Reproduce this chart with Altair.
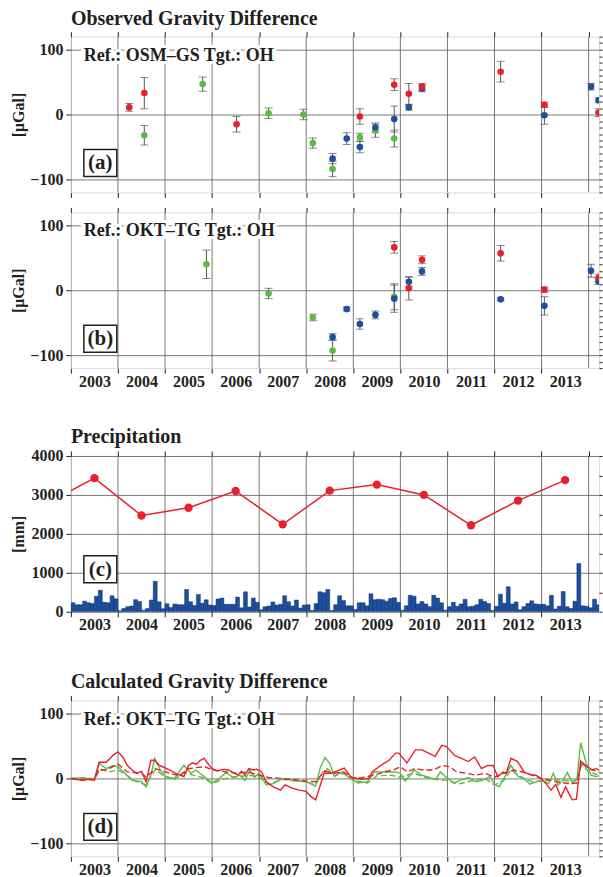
import altair as alt
import pandas as pd

FONT = "Liberation Serif"
RED = "#e8202a"
GREEN = "#5bbb45"
BLUE = "#1d4f9f"
INK = "#231f20"
GRID = "#6a6a6a"
W, H = 529, 156
X0, X1 = 2003.0, 2014.22

year_ticks = list(range(2003, 2015))
label_years = list(range(2003, 2014))

# ---------------- (a) observed, Ref OSM-GS ----------------
a_green_t = [2004.56, 2005.80, 2007.20, 2007.94, 2008.14, 2008.56, 2009.14, 2009.47, 2009.87]
a_green_v = [-32, 47, 2, 0, -44, -84, -35, -25, -37]
a_green_e = [15, 11, 8, 8, 8, 12, 6, 10, 13]
a_blue_t = [2008.56, 2008.86, 2009.14, 2009.47, 2009.87, 2010.18, 2010.46, 2013.06, 2014.05, 2014.21]
a_blue_v = [-68, -37, -50, -20, -7, 11, 40, -1, 43, 22]
a_blue_e = [8, 9, 9, 7, 20, 4, 5, 14, 5, 4]
a_red_t = [2004.24, 2004.56, 2006.52, 2009.14, 2009.87, 2010.18, 2010.46, 2012.13, 2013.06, 2014.21]
a_red_v = [11, 33, -15, -3, 46, 32, 43, 66, 15, 3]
a_red_e = [6, 24, 12, 12, 9, 16, 5, 16, 4, 6]

# ---------------- (b) observed, Ref OKT-TG ----------------
b_green_t = [2005.88, 2007.20, 2008.14, 2008.56, 2009.87]
b_green_v = [40, -5, -42, -93, -10]
b_green_e = [22, 8, 5, 16, 20]
b_blue_t = [2008.56, 2008.86, 2009.14, 2009.47, 2009.87, 2010.18, 2010.46, 2012.13, 2013.06, 2014.05, 2014.21]
b_blue_v = [-72, -29, -52, -38, -13, 13, 29, -14, -24, 30, 14]
b_blue_e = [5, 3, 8, 6, 21, 7, 6, 2, 14, 10, 5]
b_red_t = [2009.87, 2010.18, 2010.46, 2012.13, 2013.06, 2014.21]
b_red_v = [66, 3, 47, 57, 1, 19]
b_red_e = [9, 18, 6, 12, 4, 6]

# ---------------- (c) precipitation ----------------
annual_t = [2002.5, 2003.5, 2004.5, 2005.5, 2006.5, 2007.5, 2008.5, 2009.5, 2010.5, 2011.5, 2012.5, 2013.5]
annual_v = [2790, 3430, 2470, 2670, 3100, 2245, 3110, 3265, 3000, 2220, 2855, 3380]
monthly_years = list(range(2003, 2015))
monthly_v = [
    [230, 180, 180, 270, 230, 210, 400, 550, 240, 230, 410, 330],
    [25, 80, 130, 145, 310, 265, 40, 80, 300, 780, 255, 75],
    [205, 110, 195, 180, 180, 570, 255, 160, 445, 215, 305, 170],
    [160, 325, 350, 190, 190, 190, 375, 100, 510, 120, 350, 240],
    [50, 130, 145, 250, 170, 190, 410, 255, 145, 300, 95, 170],
    [180, 30, 210, 510, 490, 570, 30, 180, 410, 290, 150, 150],
    [60, 230, 230, 150, 460, 310, 320, 310, 270, 340, 360, 240],
    [40, 150, 420, 400, 200, 260, 200, 130, 420, 350, 230, 40],
    [130, 240, 140, 200, 320, 130, 140, 180, 320, 260, 210, 30],
    [140, 450, 220, 640, 200, 250, 50, 130, 210, 280, 200, 190],
    [190, 150, 420, 70, 140, 520, 130, 80, 270, 1240, 150, 140],
    [100, 320, 180],
]

# ---------------- (d) calculated ----------------
rs_t = [2003.0, 2003.1, 2003.25, 2003.4, 2003.5, 2003.6, 2003.75, 2003.9, 2004.0, 2004.1, 2004.2, 2004.3,
        2004.4, 2004.5, 2004.6, 2004.7, 2004.78, 2004.88, 2004.95, 2005.1, 2005.25, 2005.4, 2005.5, 2005.58,
        2005.67, 2005.75, 2005.83, 2005.92, 2006.0, 2006.1, 2006.25, 2006.35, 2006.45, 2006.55, 2006.62, 2006.7,
        2006.78, 2006.87, 2006.95, 2007.05, 2007.15, 2007.3, 2007.45, 2007.55, 2007.7, 2007.85, 2008.0, 2008.1,
        2008.2, 2008.3, 2008.4, 2008.53, 2008.67, 2008.81, 2008.95, 2009.08, 2009.22, 2009.33, 2009.4, 2009.58,
        2009.76, 2009.9, 2009.97, 2010.14, 2010.32, 2010.46, 2010.6, 2010.74, 2010.88, 2010.98, 2011.16, 2011.3,
        2011.44, 2011.58, 2011.72, 2011.86, 2011.97, 2012.07, 2012.18, 2012.25, 2012.35, 2012.49, 2012.63, 2012.74,
        2012.88, 2012.99, 2013.09, 2013.2, 2013.3, 2013.41, 2013.51, 2013.65, 2013.74, 2013.83, 2013.94, 2014.08,
        2014.15, 2014.22]
rs_v = [0, -1.5, -3, -1, -2.5, 25, 25, 36, 41, 33, 20, 13,
        8, 11, -5, 28, 28, 20, 18, 13, 7, 3, 20, 24,
        22, 28, 31, 22, 15, 12, 14, 13, 9, 5, 11, 5,
        15, 13, 14, 10, -5, -13, -18, -10, -15, -18, -20, -28,
        -33, -10, 12, 8, 12, 16, 2, 0, -1.5, 0, 10, 20,
        28, 39, 39, 24, 44, 44, 39, 34, 51, 49, 35, 31,
        26, 33, 15, 20, 20, 2.5, 10, 8, 31, 26, 10, 6,
        5, 0, -8, -18, -9, -29, -13, -33, -32, 27, 20, 13,
        15, 13]
rd_t = [2003.0, 2003.2, 2003.5, 2003.6, 2003.75, 2004.0, 2004.2, 2004.5, 2004.6, 2004.8, 2005.0, 2005.3,
        2005.5, 2005.7, 2005.85, 2006.0, 2006.3, 2006.5, 2006.75, 2007.0, 2007.2, 2007.5, 2007.7, 2008.0,
        2008.2, 2008.35, 2008.6, 2008.8, 2009.0, 2009.2, 2009.45, 2009.65, 2009.85, 2010.0, 2010.15, 2010.3,
        2010.5, 2010.7, 2010.9, 2011.05, 2011.2, 2011.4, 2011.6, 2011.8, 2012.0, 2012.2, 2012.4, 2012.6,
        2012.8, 2013.0, 2013.3, 2013.6, 2013.75, 2013.85, 2014.0, 2014.22]
rd_v = [0, -2, -2, 13, 13, 22, 10, 8, 2, 15, 10, 4,
        15, 17, 18, 13, 10, 8, 10, 5, 1.5, 0, -1.5, -4,
        -5, 8, 8, 10, 0, 1.5, 5, 10, 13, 18, 10, 15,
        13, 13, 20, 18, 10, 8, 5, 8, 2, 8, 13, 10,
        5, 0, -5, -8, -7, 24, 15, 10]
gs_t = [2003.0, 2003.25, 2003.5, 2003.6, 2003.75, 2003.9, 2004.0, 2004.15, 2004.3, 2004.5, 2004.6, 2004.7,
        2004.78, 2004.9, 2005.0, 2005.2, 2005.4, 2005.55, 2005.65, 2005.8, 2006.0, 2006.15, 2006.3, 2006.45,
        2006.6, 2006.7, 2006.8, 2006.9, 2007.0, 2007.15, 2007.3, 2007.5, 2007.7, 2007.85, 2008.0, 2008.2,
        2008.3, 2008.4, 2008.5, 2008.6, 2008.75, 2008.9, 2009.1, 2009.3, 2009.45, 2009.7, 2009.9, 2010.0,
        2010.1, 2010.3, 2010.45, 2010.6, 2010.75, 2010.85, 2011.0, 2011.15, 2011.3, 2011.45, 2011.6, 2011.75,
        2011.9, 2012.0, 2012.1, 2012.2, 2012.35, 2012.5, 2012.6, 2012.75, 2012.9, 2013.0, 2013.15, 2013.25,
        2013.35, 2013.45, 2013.55, 2013.65, 2013.75, 2013.83, 2013.95, 2014.05, 2014.15, 2014.22]
gs_v = [0, 1, -1, 23, 15, 20, 18, 8, -3, -5, -13, 5,
        31, 13, 3, 0, 20, 8, 13, 5, -7, 0, 9, 1.5,
        5, -3, 13, 2, 8, -10, -8, 0, -3, -4, -5, -12,
        17, 32, 23, 3, 10, 2, -7, -5, 10, 10, 10, 8,
        -4, 13, 5, 2, -1.5, 10, 0, -7, -2, 1.5, -5, -3,
        3, -9, -13, 0, 20, 3, 1.5, -9, -5, -3, -8, 8,
        -10, -3, 9, -7, -2, 55, 23, 5, 3, 4]
gd_t = [2003.0, 2003.5, 2003.6, 2003.8, 2004.0, 2004.2, 2004.4, 2004.6, 2004.7, 2004.8, 2005.0, 2005.2,
        2005.4, 2005.6, 2005.8, 2006.0, 2006.2, 2006.4, 2006.6, 2006.8, 2007.0, 2007.2, 2007.5, 2007.8,
        2008.0, 2008.2, 2008.35, 2008.45, 2008.6, 2008.8, 2009.0, 2009.3, 2009.5, 2009.8, 2010.0, 2010.3,
        2010.5, 2010.8, 2011.0, 2011.2, 2011.5, 2011.8, 2012.0, 2012.2, 2012.35, 2012.6, 2012.8, 2013.0,
        2013.3, 2013.6, 2013.75, 2013.85, 2014.0, 2014.22]
gd_v = [0, 0, 15, 10, 13, 4, -5, -10, 3, 14, 2, -1.5,
        9, 5, 1.5, -8, -2, 2, 3, 5, 2, -9, -1.5, -4,
        -5, -10, 10, 15, 4, 8, -3, -7, 4, 5, 2, 8,
        2, -2, -3, -9, -4, 0, -10, -3, 13, 0, -5, -4,
        -2, -4, -2, 23, 10, 5]


def xs():
    return alt.Scale(domain=[X0, X1], nice=False, zero=False)


def frame(ydom, ymajor, yminor, ytitle, show_xlabels):
    ys = alt.Scale(domain=ydom, nice=False, zero=False)
    df = pd.DataFrame({"t": [X0], "v": [ydom[0]]})
    xaxis = alt.Axis(values=label_years, grid=False,
                     tickSize=5, tickColor=INK, domain=False, labels=show_xlabels,
                     labelOffset=23.6, format="d", title=None,
                     labelFont=FONT, labelFontSize=16, labelFontWeight="bold", labelColor=INK,
                     labelPadding=0, labelFlush=False, labelOverlap=False)
    yaxis = alt.Axis(values=ymajor, grid=True, gridColor=GRID, gridWidth=0.9, format="d",
                     tickSize=5, tickColor=INK, domain=False,
                     labelFont=FONT, labelFontSize=16, labelFontWeight="bold", labelColor=INK,
                     labelPadding=3, minExtent=40, maxExtent=40,
                     title=ytitle, titleFont=FONT, titleFontSize=16, titleFontWeight="bold",
                     titleColor=INK, titlePadding=4)
    l1 = alt.Chart(df).mark_point(opacity=0).encode(
        x=alt.X("t:Q", scale=xs(), axis=xaxis),
        y=alt.Y("v:Q", scale=ys, axis=yaxis))
    l2 = alt.Chart(df).mark_point(opacity=0).encode(
        x=alt.X("t:Q", scale=xs(), axis=alt.Axis(orient="top", values=year_ticks, labels=False,
                                                   grid=False, domain=False, tickSize=5,
                                                   minExtent=0, maxExtent=5,
                                                   tickColor=INK, title=None)),
        y=alt.Y("v:Q", scale=ys, axis=alt.Axis(orient="right", values=yminor, labels=False,
                                                 grid=False, domain=False, tickSize=3,
                                                 minExtent=0, maxExtent=3,
                                                 tickColor=INK, title=None)))
    vgrid = alt.Chart(pd.DataFrame({"t": year_ticks})).mark_rule(
        color=GRID, strokeWidth=0.9, clip=True).encode(
        x=alt.X("t:Q", scale=xs(), axis=None))
    return ys, [l1, l2, vgrid]


def label_layers(text):
    one = pd.DataFrame({"k": [0]})
    halo = alt.Chart(one).mark_text(text=text, font=FONT, fontSize=18, fontWeight="bold",
                                    align="left", baseline="middle", stroke="white",
                                    strokeWidth=6, fill="white").encode(
        x=alt.value(13), y=alt.value(19))
    txt = alt.Chart(one).mark_text(text=text, font=FONT, fontSize=18, fontWeight="bold",
                                   align="left", baseline="middle", color=INK).encode(
        x=alt.value(13), y=alt.value(19))
    return [halo, txt]


def box_layers(letter, y0):
    one = pd.DataFrame({"k": [0]})
    rect = alt.Chart(one).mark_rect(fill="white", stroke=INK, strokeWidth=1.5).encode(
        x=alt.value(13), x2=alt.value(46), y=alt.value(y0), y2=alt.value(y0 + 27))
    txt = alt.Chart(one).mark_text(text=letter, font=FONT, fontSize=21, fontWeight="bold",
                                   align="center", baseline="middle", color=INK).encode(
        x=alt.value(29.5), y=alt.value(y0 + 14))
    return [rect, txt]


def obs_frame(groups):
    parts = []
    for name, t, v, e in groups:
        parts.append(pd.DataFrame({"t": t, "v": v,
                                   "lo": [a - b for a, b in zip(v, e)],
                                   "hi": [a + b for a, b in zip(v, e)],
                                   "s": name}))
    return pd.concat(parts, ignore_index=True)


def title_params(text, offset):
    return alt.TitleParams(text, anchor="start", frame="group", font=FONT, fontSize=20,
                           fontWeight="bold", color=INK, offset=offset)


def obs_panel(groups, ref_text, letter, title=None, show_xlabels=True):
    ys, fl = frame([-120, 120], [-100, 0, 100], list(range(-120, 121, 10)), "[μGal]", show_xlabels)
    df = obs_frame(groups)
    base = alt.Chart(df)
    bar = base.mark_rule(color="#555555", strokeWidth=1, clip=True).encode(
        x=alt.X("t:Q", scale=xs(), axis=None),
        y=alt.Y("lo:Q", scale=ys, axis=None), y2="hi:Q")
    cap_lo = base.mark_tick(orient="horizontal", size=8, thickness=1, color="#555555", clip=True).encode(
        x=alt.X("t:Q", scale=xs(), axis=None), y=alt.Y("lo:Q", scale=ys, axis=None))
    cap_hi = base.mark_tick(orient="horizontal", size=8, thickness=1, color="#555555", clip=True).encode(
        x=alt.X("t:Q", scale=xs(), axis=None), y=alt.Y("hi:Q", scale=ys, axis=None))
    pts = base.mark_circle(size=44, opacity=1, clip=True).encode(
        x=alt.X("t:Q", scale=xs(), axis=None), y=alt.Y("v:Q", scale=ys, axis=None),
        color=alt.Color("s:N", scale=alt.Scale(domain=["g", "b", "r"], range=[GREEN, BLUE, RED]),
                        legend=None))
    layers = fl + [bar, cap_lo, cap_hi, pts] + label_layers(ref_text) + box_layers(letter, 113)
    ch = alt.layer(*layers).resolve_axis(x="independent", y="independent")
    if title:
        return ch.properties(width=W, height=H, title=title_params(title, 2))
    return ch.properties(width=W, height=H)


panel_a = obs_panel([("g", a_green_t, a_green_v, a_green_e),
                     ("b", a_blue_t, a_blue_v, a_blue_e),
                     ("r", a_red_t, a_red_v, a_red_e)],
                    "Ref.: OSM–GS Tgt.: OH", "(a)", title="Observed Gravity Difference",
                    show_xlabels=False)
panel_b = obs_panel([("g", b_green_t, b_green_v, b_green_e),
                     ("b", b_blue_t, b_blue_v, b_blue_e),
                     ("r", b_red_t, b_red_v, b_red_e)],
                    "Ref.: OKT–TG Tgt.: OH", "(b)")

# precipitation panel
rows = []
for yr, vals in zip(monthly_years, monthly_v):
    for m, p in enumerate(vals):
        rows.append({"t0": yr + m / 12.0, "t1": yr + (m + 1) / 12.0, "p": p, "z": 0})
mdf = pd.DataFrame(rows)
adf = pd.DataFrame({"t": annual_t, "v": annual_v})
ys_c, fl_c = frame([0, 4000], [0, 1000, 2000, 3000, 4000], list(range(0, 4001, 500)), "[mm]", True)
bars = alt.Chart(mdf).mark_rect(color=BLUE, stroke="#0f2f66", strokeWidth=0.5, clip=True).encode(
    x=alt.X("t0:Q", scale=xs(), axis=None), x2="t1:Q",
    y=alt.Y("p:Q", scale=ys_c, axis=None), y2="z:Q")
aline = alt.Chart(adf).mark_line(color=RED, strokeWidth=1.5, clip=True).encode(
    x=alt.X("t:Q", scale=xs(), axis=None), y=alt.Y("v:Q", scale=ys_c, axis=None))
adots = alt.Chart(adf).mark_circle(color=RED, size=70, opacity=1, clip=True).encode(
    x=alt.X("t:Q", scale=xs(), axis=None), y=alt.Y("v:Q", scale=ys_c, axis=None))
panel_c = alt.layer(*(fl_c + [bars, aline, adots] + box_layers("(c)", 100))).resolve_axis(
    x="independent", y="independent").properties(
    width=W, height=H, title=title_params("Precipitation", 1))

# calculated panel
ys_d, fl_d = frame([-120, 120], [-100, 0, 100], list(range(-120, 121, 10)), "[μGal]", True)


def series_line(t, v, color, dash):
    df = pd.DataFrame({"t": t, "v": v})
    kw = dict(color=color, strokeWidth=1.4, clip=True)
    if dash:
        kw["strokeDash"] = [6, 3]
    return alt.Chart(df).mark_line(**kw).encode(
        x=alt.X("t:Q", scale=xs(), axis=None), y=alt.Y("v:Q", scale=ys_d, axis=None))


lines = [series_line(gd_t, gd_v, GREEN, True), series_line(gs_t, gs_v, GREEN, False),
         series_line(rd_t, rd_v, RED, True), series_line(rs_t, rs_v, RED, False)]
panel_d = alt.layer(*(fl_d + lines + label_layers("Ref.: OKT–TG Tgt.: OH")
                      + box_layers("(d)", 113))).resolve_axis(
    x="independent", y="independent").properties(
    width=W, height=H, title=title_params("Calculated Gravity Difference", 3))

top = alt.vconcat(panel_a, panel_b, spacing=8)
upper = alt.vconcat(top, panel_c, spacing=36)
chart = alt.vconcat(upper, panel_d, spacing=38).properties(
    padding={"left": 10, "top": 8, "right": 0, "bottom": 0}
).configure_view(stroke=INK, strokeWidth=2).configure(font=FONT)

chart.save("out.html", embed_options={"renderer": "svg", "actions": False})
